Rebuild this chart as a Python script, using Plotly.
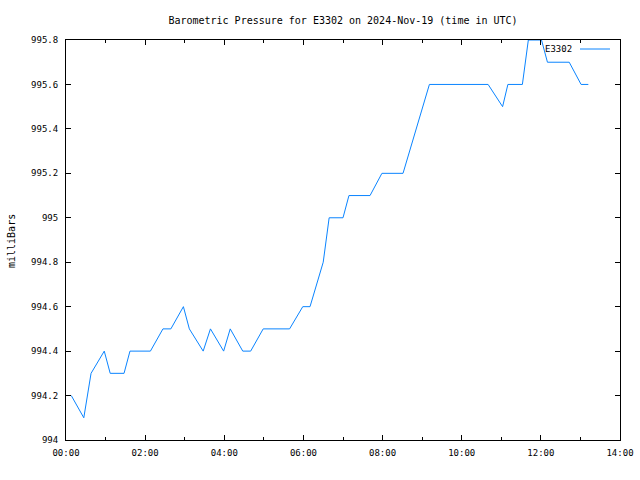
import plotly.graph_objects as go

times = ["00:08", "00:27", "00:38", "00:58", "01:07", "01:28", "01:37", "02:08",
         "02:27", "02:39", "02:58", "03:07", "03:28", "03:39", "03:59", "04:09",
         "04:28", "04:40", "04:59", "05:39", "05:59", "06:10", "06:30", "06:39",
         "07:00", "07:09", "07:41", "07:59", "08:31", "09:11", "10:40", "11:02",
         "11:10", "11:32", "11:41", "12:01", "12:10", "12:43", "13:01", "13:12"]
pressure = [994.2, 994.1, 994.3, 994.4, 994.3, 994.3, 994.4, 994.4,
            994.5, 994.5, 994.6, 994.5, 994.4, 994.5, 994.4, 994.5,
            994.4, 994.4, 994.5, 994.5, 994.6, 994.6, 994.8, 995.0,
            995.0, 995.1, 995.1, 995.2, 995.2, 995.6, 995.6, 995.5,
            995.6, 995.6, 995.8, 995.8, 995.7, 995.7, 995.6, 995.6]
day = "2024-11-19"
x_vals = [f"{day} {t}" for t in times]

y_ticks = [994, 994.2, 994.4, 994.6, 994.8, 995, 995.2, 995.4, 995.6, 995.8]
y_labels = ["994", "994.2", "994.4", "994.6", "994.8", "995", "995.2", "995.4", "995.6", "995.8"]

fam = "DejaVu Sans Mono"
f_title = dict(family=fam, size=10, color="black")
f_tick = dict(family=fam, size=9, color="black")
f_lab = dict(family=fam, size=10, color="black")
line_color = "#0a84ff"

fig = go.Figure()
fig.add_trace(go.Scatter(x=x_vals, y=pressure, mode="lines",
                         line=dict(color=line_color, width=1), name="E3302",
                         showlegend=False))

fig.update_layout(
    width=640, height=480,
    margin=dict(l=66, r=20, t=40, b=40, autoexpand=False),
    paper_bgcolor="white", plot_bgcolor="white",
    font=f_tick,
    title=dict(text="Barometric Pressure for E3302 on 2024-Nov-19 (time in UTC)",
               x=0.5, xref="paper", xanchor="center", y=1 - 20 / 480, yanchor="middle",
               font=f_title),
    xaxis=dict(type="date", range=[f"{day} 00:00", f"{day} 14:00"],
               dtick=2 * 3600000, tick0=f"{day} 00:00", tickformat="%H:%M",
               showgrid=False, zeroline=False, showline=True, linecolor="black",
               linewidth=1, mirror="allticks", ticks="inside", ticklen=5,
               tickcolor="black", tickfont=f_tick, automargin=False,
               ticklabelstandoff=4,
               minor=dict(ticks="inside", ticklen=3, dtick=3600000, tickcolor="black")),
    yaxis=dict(range=[994, 995.8], tickvals=y_ticks, ticktext=y_labels,
               showgrid=False, zeroline=False, showline=True, linecolor="black",
               linewidth=1, mirror="allticks", ticks="inside", ticklen=5,
               tickcolor="black", tickfont=f_tick, automargin=False,
               ticklabelstandoff=5),
)

fig.add_annotation(text="milliBars", xref="paper", yref="paper",
                   x=(12 - 66) / 554, y=(440 - 241) / 400, textangle=-90,
                   xanchor="center", yanchor="middle", showarrow=False, font=f_lab)
fig.add_annotation(text="E3302", xref="paper", yref="paper", x=(574 - 66) / 554,
                   y=(440 - 49) / 400, xanchor="right", yanchor="middle",
                   showarrow=False, font=f_tick)
fig.add_shape(type="line", xref="paper", yref="paper",
              x0=(580 - 66) / 554, x1=(610 - 66) / 554,
              y0=(440 - 49) / 400, y1=(440 - 49) / 400,
              line=dict(color=line_color, width=1))

fig.write_html("out.html")
